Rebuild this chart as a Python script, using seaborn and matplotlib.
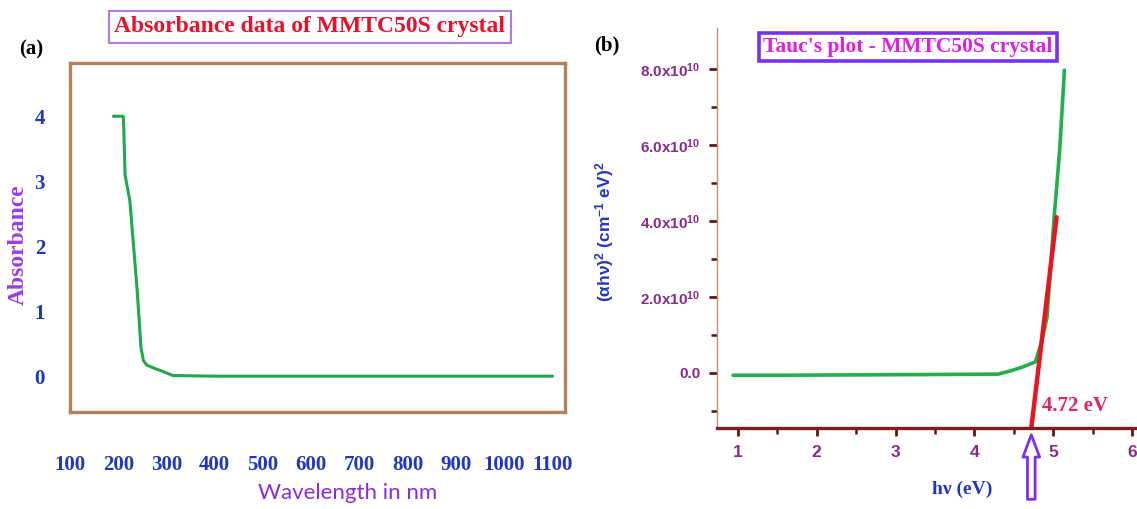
import matplotlib
matplotlib.use("Agg")
import matplotlib.pyplot as plt
import seaborn as sns
import numpy as np
import pandas as pd

# --- data ---
wavelength_nm = [190, 210, 211, 214, 224, 239, 247, 252, 259, 275, 293, 313, 400, 600, 800, 1000, 1100]
absorbance = [4.0, 4.0, 3.9, 3.1, 2.7, 1.34, 0.45, 0.25, 0.18, 0.13, 0.08, 0.02, 0.01, 0.01, 0.01, 0.01, 0.01]

photon_ev = [0.94, 1.5, 2.5, 3.5, 4.3, 4.45, 4.6, 4.77, 4.85, 4.92, 5.01, 5.08, 5.14]
tauc_val = [-0.06e10, -0.06e10, -0.05e10, -0.04e10, -0.03e10, 0.05e10, 0.15e10, 0.29e10,
            0.8e10, 1.47e10, 4.1e10, 5.87e10, 7.97e10]

fit_ev = [4.72, 5.04]
fit_val = [-1.45e10, 4.1e10]

band_gap = 4.72

abs_xticks = [100, 200, 300, 400, 500, 600, 700, 800, 900, 1000, 1100]
abs_yticks = [0, 1, 2, 3, 4]
tauc_yticks = [0, 2e10, 4e10, 6e10, 8e10]
tauc_ylabels = ["0.0", "2.0x10$^{10}$", "4.0x10$^{10}$", "6.0x10$^{10}$", "8.0x10$^{10}$"]
tauc_xticks = [1, 2, 3, 4, 5, 6]

df_abs = pd.DataFrame({"wl": wavelength_nm, "A": absorbance})
df_tauc = pd.DataFrame({"E": photon_ev, "T": tauc_val})
df_fit = pd.DataFrame({"E": fit_ev, "T": fit_val})

sns.set_style("white")
plt.rcParams["font.family"] = ["Liberation Serif", "DejaVu Serif"]
plt.rcParams["mathtext.default"] = "regular"

SERIF = ["Liberation Serif", "DejaVu Serif"]
SANS = ["Liberation Sans", "DejaVu Sans"]

fig = plt.figure(figsize=(11.37, 5.09), dpi=100)

# ---------------- (a) absorbance ----------------
ax1 = fig.add_axes([0.0616, 0.1906, 0.435, 0.686])
sns.lineplot(data=df_abs, x="wl", y="A", ax=ax1, color="#1fa84c", linewidth=2.2)
ax1.set_xlim(100, 1125)
ax1.set_ylim(-0.54, 4.82)
ax1.set_xticks(abs_xticks)
ax1.set_yticks(abs_yticks)
ax1.tick_params(axis="both", length=0, colors="#2236c0")
ax1.tick_params(axis="x", pad=31)
ax1.tick_params(axis="y", pad=18)
for lab in ax1.get_xticklabels() + ax1.get_yticklabels():
    lab.set_family(SERIF)
    lab.set_fontweight("bold")
    lab.set_fontsize(15)
for sp in ax1.spines.values():
    sp.set_visible(True)
    sp.set_color("#b5805a")
    sp.set_linewidth(2.4)
ax1.set_xlabel("Wavelength in nm", family=["Lato", "DejaVu Sans"], fontsize=16,
               color="#8a2be2", va="center")
ax1.xaxis.set_label_coords(0.562, -0.232)
ax1.set_ylabel("Absorbance", family=SERIF, fontsize=17, fontweight="bold",
               color="#9b3be8", va="center")
ax1.yaxis.set_label_coords(-0.105, 0.478)

fig.text(0.2726, 0.947, "Absorbance data of MMTC50S crystal", family=SERIF,
         fontsize=17, fontweight="bold", color="#e8102a", ha="center", va="center",
         bbox=dict(boxstyle="square,pad=0.25", fc="white", ec="#b07ae0", lw=1.5))
fig.text(0.027, 0.902, "(a)", family=SERIF, fontsize=15, fontweight="bold",
         color="black", ha="center", va="center")

# ---------------- (b) Tauc plot ----------------
ax2 = fig.add_axes([0.6306, 0.159, 0.3694, 0.786])
sns.lineplot(data=df_tauc, x="E", y="T", ax=ax2, color="#22b04c", linewidth=2.6)
sns.lineplot(data=df_fit, x="E", y="T", ax=ax2, color="#e8141e", linewidth=3.2)
ax2.set_xlim(0.736, 6.06)
ax2.set_ylim(-1.45e10, 9.08e10)
ax2.set_xticks(tauc_xticks)
ax2.set_xticks(np.array(tauc_xticks[:-1]) + 0.5, minor=True)
ax2.set_yticks(tauc_yticks)
ax2.set_yticklabels(tauc_ylabels)
ax2.set_yticks(np.array(tauc_yticks) - 1e10, minor=True)
ax2.tick_params(axis="both", which="major", direction="out", length=6, width=2,
                color="#6a1010", labelcolor="#8b2a8b", pad=6)
ax2.tick_params(axis="both", which="minor", direction="out", length=4, width=1.8,
                color="#6a1010")
ax2.tick_params(axis="x", which="both", bottom=True)
ax2.tick_params(axis="y", which="both", left=True)
for lab in ax2.get_yticklabels():
    lab.set_family(SANS)
    lab.set_fontweight("bold")
    lab.set_fontsize(11)
for lab in ax2.get_xticklabels():
    lab.set_family(SANS)
    lab.set_fontweight("bold")
    lab.set_fontsize(12.5)
ax2.spines["top"].set_visible(False)
ax2.spines["right"].set_visible(False)
ax2.spines["left"].set_color("#c8906a")
ax2.spines["left"].set_linewidth(1.0)
ax2.spines["bottom"].set_color("#7a1e1e")
ax2.spines["bottom"].set_linewidth(2.4)

ax2.set_xlabel("h\u03bd (eV)", family=SERIF, fontsize=14, fontweight="bold",
               color="#2236c0", va="center")
ax2.xaxis.set_label_coords(0.583, -0.1525)
ax2.set_ylabel("(\u03b1h\u03bd)$^2$ (cm$^{-1}$ eV)$^2$", family=SANS, fontsize=12.5,
               fontweight="bold", color="#2236c0", va="center")
ax2.yaxis.set_label_coords(-0.267, 0.49)

ax2.text(4.86, -0.87e10, f"{band_gap:.2f} eV", family=SERIF, fontsize=15,
         fontweight="bold", color="#e0245e", ha="left", va="center")
ax2.annotate("", xy=(band_gap, -0.01), xytext=(band_gap, -0.185),
             xycoords=("data", "axes fraction"), textcoords=("data", "axes fraction"),
             annotation_clip=False,
             arrowprops=dict(arrowstyle="simple,head_length=1.6,head_width=1.2,tail_width=0.55",
                             fc="white", ec="#7b30f0", lw=2.0))

fig.text(0.7986, 0.9077, "Tauc's plot - MMTC50S crystal", family=SERIF,
         fontsize=15.5, fontweight="bold", color="#e020e0", ha="center", va="center",
         bbox=dict(boxstyle="square,pad=0.2", fc="white", ec="#7a30f0", lw=2.6))
fig.text(0.534, 0.911, "(b)", family=SERIF, fontsize=15, fontweight="bold",
         color="black", ha="center", va="center")

fig.savefig("out.png", dpi=100)
